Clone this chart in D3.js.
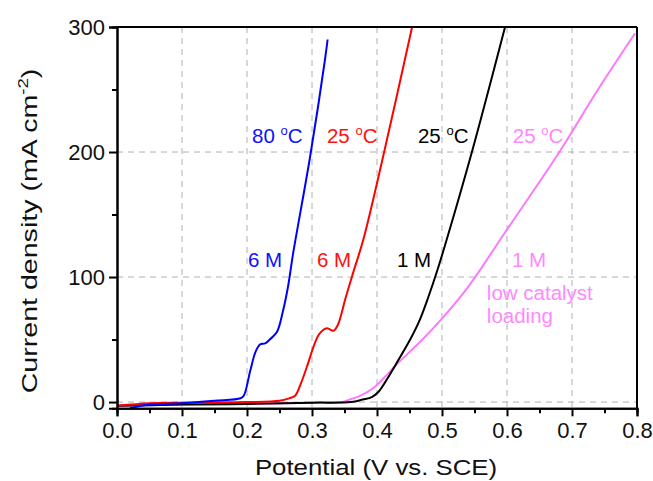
<!DOCTYPE html>
<html><head><meta charset="utf-8">
<script src="https://cdn.jsdelivr.net/npm/d3@7/dist/d3.min.js"></script>
<style>body{margin:0;background:#fff}svg{display:block;font-family:Arial,"Liberation Sans",sans-serif}</style>
</head><body><svg id="c" width="653" height="481"></svg>
<script>
// Data (potential V vs SCE, current density mA cm^-2)
const blueX = [0.02,0.05,0.10,0.15,0.19,0.195,0.205,0.213,0.22,0.228,0.235,0.246,0.255,0.263,0.271,0.297,0.32,0.324];
const blueY = [-5,-2,-1,1,3,5,25,40,46,47,50,56,72,92,119,196,274,290];
const redX = [0.0,0.05,0.10,0.20,0.25,0.265,0.274,0.283,0.292,0.305,0.312,0.323,0.333,0.34,0.345,0.351,0.363,0.379,0.411,0.454];
const redY = [-3,-1,-0.5,0,1,3,5,15,28,48,55,59,57,62,70,82,103,130,200,300];
const blackX = [0.0,0.05,0.10,0.20,0.30,0.36,0.378,0.392,0.402,0.415,0.43,0.451,0.466,0.479,0.492,0.505,0.546,0.597];
const blackY = [-3,-2.5,-2,-1.5,-0.5,0,2,4,8,18,31,50,66,84,104,126,200,300];
const pinkX = [0.0,0.05,0.10,0.20,0.30,0.35,0.36,0.374,0.394,0.41,0.43,0.466,0.502,0.54,0.60,0.678,0.74,0.797];
const pinkY = [-3,-2.5,-2,-1.5,-0.5,0.5,2.4,5,11,19,30,48,68,92,138,198,250,295];
const xTicks = [0.0,0.1,0.2,0.3,0.4,0.5,0.6,0.7,0.8];
const yTicks = [0,100,200,300];
const labels = [
  {t:"80 ", s:"o", u:"C", x:0.2077, y:207, c:"#1010ff"},
  {t:"6 M", x:0.2015, y:108, c:"#1010ff"},
  {t:"25 ", s:"o", u:"C", x:0.323, y:207, c:"#ff1010"},
  {t:"6 M", x:0.3077, y:108, c:"#ff1010"},
  {t:"25 ", s:"o", u:"C", x:0.463, y:207, c:"#000"},
  {t:"1 M", x:0.4308, y:108, c:"#000"},
  {t:"25 ", s:"o", u:"C", x:0.609, y:207, c:"#ff88ff"},
  {t:"1 M", x:0.6077, y:108, c:"#ff88ff"},
  {t:"low catalyst", x:0.569, y:81.6, c:"#ff88ff"},
  {t:"loading", x:0.569, y:63, c:"#ff88ff"}
];

const svg = d3.select("#c");
const L=117, R=637, T=27, B=408.3;
const x = d3.scaleLinear().domain([0,0.8]).range([L,R]);
const y = d3.scaleLinear().domain([-5,300]).range([B,T]);

// grid
const g = svg.append("g");
g.selectAll(".gx").data(xTicks.filter(d=>d>0&&d<0.8)).enter().append("line")
 .attr("x1",d=>x(d)).attr("x2",d=>x(d)).attr("y1",T).attr("y2",B)
 .attr("stroke","#b0b0b0").attr("stroke-width",1).attr("stroke-dasharray","6,5");
g.selectAll(".gy").data(yTicks.filter(d=>d<300)).enter().append("line")
 .attr("x1",L).attr("x2",R).attr("y1",d=>y(d)).attr("y2",d=>y(d))
 .attr("stroke","#b0b0b0").attr("stroke-width",1).attr("stroke-dasharray","6,5");

// curves
const line = d3.line().x(d=>x(d[0])).y(d=>y(d[1])).curve(d3.curveCatmullRom.alpha(0.5));
const series = [[pinkX,pinkY,"#ff77ff"],[blackX,blackY,"#000"],[redX,redY,"#ff0000"],[blueX,blueY,"#0000ff"]];
svg.append("clipPath").attr("id","cp").append("rect").attr("x",L).attr("y",T).attr("width",R-L).attr("height",B-T);
series.forEach(([xs,ys,c])=>{
  svg.append("path").datum(xs.map((v,i)=>[v,ys[i]])).attr("d",line)
   .attr("fill","none").attr("stroke",c).attr("stroke-width",2).attr("clip-path","url(#cp)");
});

// axes
const xAxis = svg.append("g").attr("transform",`translate(0,${B})`)
 .call(d3.axisBottom(x).tickValues(xTicks).tickFormat(d3.format(".1f")).tickSize(8).tickPadding(6));
const xMinor = svg.append("g").attr("transform",`translate(0,${B})`)
 .call(d3.axisBottom(x).tickValues(d3.range(0.05,0.8,0.1)).tickFormat("").tickSize(5));
const yAxis = svg.append("g").attr("transform",`translate(${L},0)`)
 .call(d3.axisLeft(y).tickValues(yTicks).tickSize(8).tickPadding(4));
const yMinor = svg.append("g").attr("transform",`translate(${L},0)`)
 .call(d3.axisLeft(y).tickValues([50,150,250]).tickFormat("").tickSize(5));
[xAxis,xMinor,yAxis,yMinor].forEach(a=>{
  a.select(".domain").attr("stroke","#000").attr("stroke-width",2);
  a.selectAll(".tick line").attr("stroke","#000").attr("stroke-width",2);
  a.selectAll("text").attr("font-size",22).attr("fill","#111").attr("font-family","Arial, 'Liberation Sans', sans-serif");
});
// frame top/right
svg.append("line").attr("x1",L).attr("x2",R).attr("y1",T).attr("y2",T).attr("stroke","#000").attr("stroke-width",2);
svg.append("line").attr("x1",R).attr("x2",R).attr("y1",T).attr("y2",B).attr("stroke","#000").attr("stroke-width",2);

// labels
labels.forEach(l=>{
  const t = svg.append("text").attr("x",x(l.x)).attr("y",y(l.y)).attr("fill",l.c).attr("font-size",20.5);
  t.append("tspan").text(l.t);
  if(l.s){
    t.append("tspan").text(l.s).attr("font-size",13).attr("dy",-8);
    t.append("tspan").text(l.u).attr("dy",8);
  }
});

// axis titles
svg.append("text").attr("transform","translate(376,475) scale(1.2,1)").attr("text-anchor","middle").attr("font-size",21.5).attr("fill","#111")
 .text("Potential (V vs. SCE)");
const yt = svg.append("text").attr("transform","translate(37,231) rotate(-90) scale(1.33,1)").attr("text-anchor","middle").attr("font-size",21.5).attr("fill","#111");
yt.append("tspan").text("Current density (mA cm");
yt.append("tspan").text("-2").attr("font-size",14).attr("dy",-9);
yt.append("tspan").text(")").attr("dy",9);
</script></body></html>
